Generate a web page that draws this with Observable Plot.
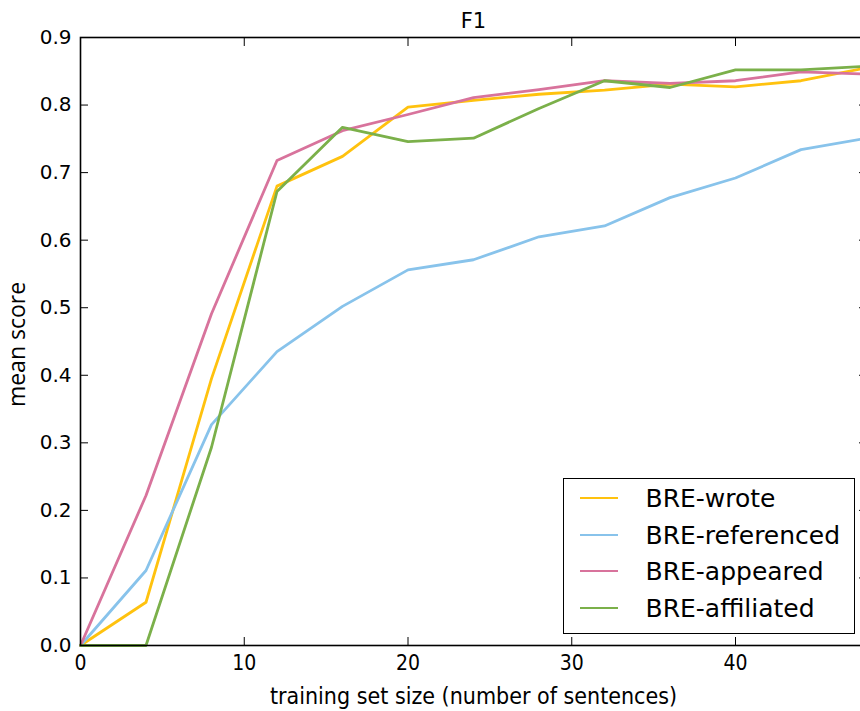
<!DOCTYPE html>
<html>
<head>
<meta charset="utf-8">
<script src="https://cdn.jsdelivr.net/npm/d3@7"></script>
<script src="https://cdn.jsdelivr.net/npm/@observablehq/plot@0.6"></script>
<style>
  html, body { margin: 0; padding: 0; background: #fff; }
  #wrap { position: relative; width: 860px; height: 711px; overflow: hidden; font-family: "DejaVu Sans", sans-serif; }
  #chart svg { max-width: none !important; width: 868px; height: 711px; display: block; }
  #legend { position: absolute; left: 563px; top: 478px; width: 292px; height: 156px; border: 1.5px solid #000; background: #fff; box-sizing: border-box; }
  .sw { position: absolute; left: 15.5px; width: 38px; height: 0; border-top: 2.8px solid; }
  .lab { position: absolute; left: 81.5px; font-size: 25px; white-space: nowrap; color: #000; line-height: 30px; font-family: "DejaVu Sans", sans-serif; }
</style>
</head>
<body>
<div id="wrap">
  <div id="chart"></div>
  <div id="legend"></div>
</div>
<script>
const sizes = [0, 4, 8, 12, 16, 20, 24, 28, 32, 36, 40, 44, 48];
const seriesNames = ["BRE-wrote", "BRE-referenced", "BRE-appeared", "BRE-affiliated"];
const wrote      = [0, 0.064, 0.395, 0.680, 0.724, 0.797, 0.807, 0.816, 0.822, 0.831, 0.827, 0.836, 0.855];
const referenced = [0, 0.111, 0.327, 0.435, 0.502, 0.556, 0.571, 0.605, 0.621, 0.663, 0.692, 0.734, 0.751];
const appeared   = [0, 0.222, 0.491, 0.718, 0.762, 0.786, 0.811, 0.823, 0.836, 0.832, 0.836, 0.849, 0.846];
const affiliated = [0, 0, 0.2935, 0.672, 0.767, 0.746, 0.751, 0.795, 0.836, 0.826, 0.852, 0.852, 0.8575];
const colors = ["#FFC20E", "#88C3EB", "#D8739C", "#7BB04A"];
const xTicks = [0, 10, 20, 30, 40];
const yTicks = [0, 0.1, 0.2, 0.3, 0.4, 0.5, 0.6, 0.7, 0.8, 0.9];
const titleText = "F1";
const xLabel = "training set size (number of sentences)";
const yLabel = "mean score";

const allSeries = [wrote, referenced, appeared, affiliated];
const data = [];
allSeries.forEach((vals, i) => vals.forEach((v, j) => data.push({series: seriesNames[i], x: sizes[j], y: v})));

const chart = Plot.plot({
  width: 868,
  height: 711,
  marginLeft: 80,
  marginRight: 2,
  marginTop: 37,
  marginBottom: 66,
  style: {fontFamily: "DejaVu Sans", fontSize: "20px", color: "#000", background: "#fff", overflow: "visible", maxWidth: "none"},
  x: {domain: [0, 48]},
  y: {domain: [0, 0.9]},
  color: {domain: seriesNames, range: colors},
  marks: [
    Plot.line(data, {x: "x", y: "y", z: "series", stroke: "series", strokeWidth: 2.8}),
    Plot.axisX(xTicks, {anchor: "bottom", tickSize: -8, tickPadding: 18, tickFormat: d => d3.format("d")(d), label: null,
      fontSize: 21, fontFamily: "DejaVu Sans Condensed", stroke: "#000"}),
    Plot.axisX(xTicks, {anchor: "top", tickSize: -8, tickFormat: () => "", label: null, stroke: "#000"}),
    Plot.axisY(yTicks, {anchor: "left", tickSize: -8, tickPadding: 17, tickFormat: d3.format(".1f"), label: null,
      fontSize: 20, fontFamily: "DejaVu Sans", stroke: "#000"}),
    Plot.axisY(yTicks, {anchor: "right", tickSize: -8, tickFormat: () => "", label: null, stroke: "#000"}),
    Plot.text([titleText], {frameAnchor: "top", lineAnchor: "bottom", dy: -10, text: d => d, fontSize: 21, fontFamily: "DejaVu Sans", fill: "#000"}),
    Plot.text([xLabel], {frameAnchor: "bottom", dy: 58, text: d => d, fontSize: 23, fontFamily: "DejaVu Sans Condensed", fill: "#000"}),
    Plot.text([yLabel], {frameAnchor: "left", textAnchor: "middle", dx: -63, dy: 3, rotate: -90, text: d => d, fontSize: 23, fontFamily: "Open Sans", fill: "#000"}),
    Plot.frame({stroke: "#000", strokeWidth: 1.6})
  ]
});
document.getElementById("chart").appendChild(chart);

const legend = document.getElementById("legend");
const rowCenters = [499, 535.5, 572, 608.7];
seriesNames.forEach((name, i) => {
  const c = rowCenters[i] - 478 - 1.5;
  const sw = document.createElement("div");
  sw.className = "sw";
  sw.style.borderTopColor = colors[i];
  sw.style.top = (c - 1.4) + "px";
  legend.appendChild(sw);
  const lab = document.createElement("div");
  lab.className = "lab";
  lab.style.top = (c - 14.5) + "px";
  lab.textContent = name;
  legend.appendChild(lab);
});
</script>
</body>
</html>
